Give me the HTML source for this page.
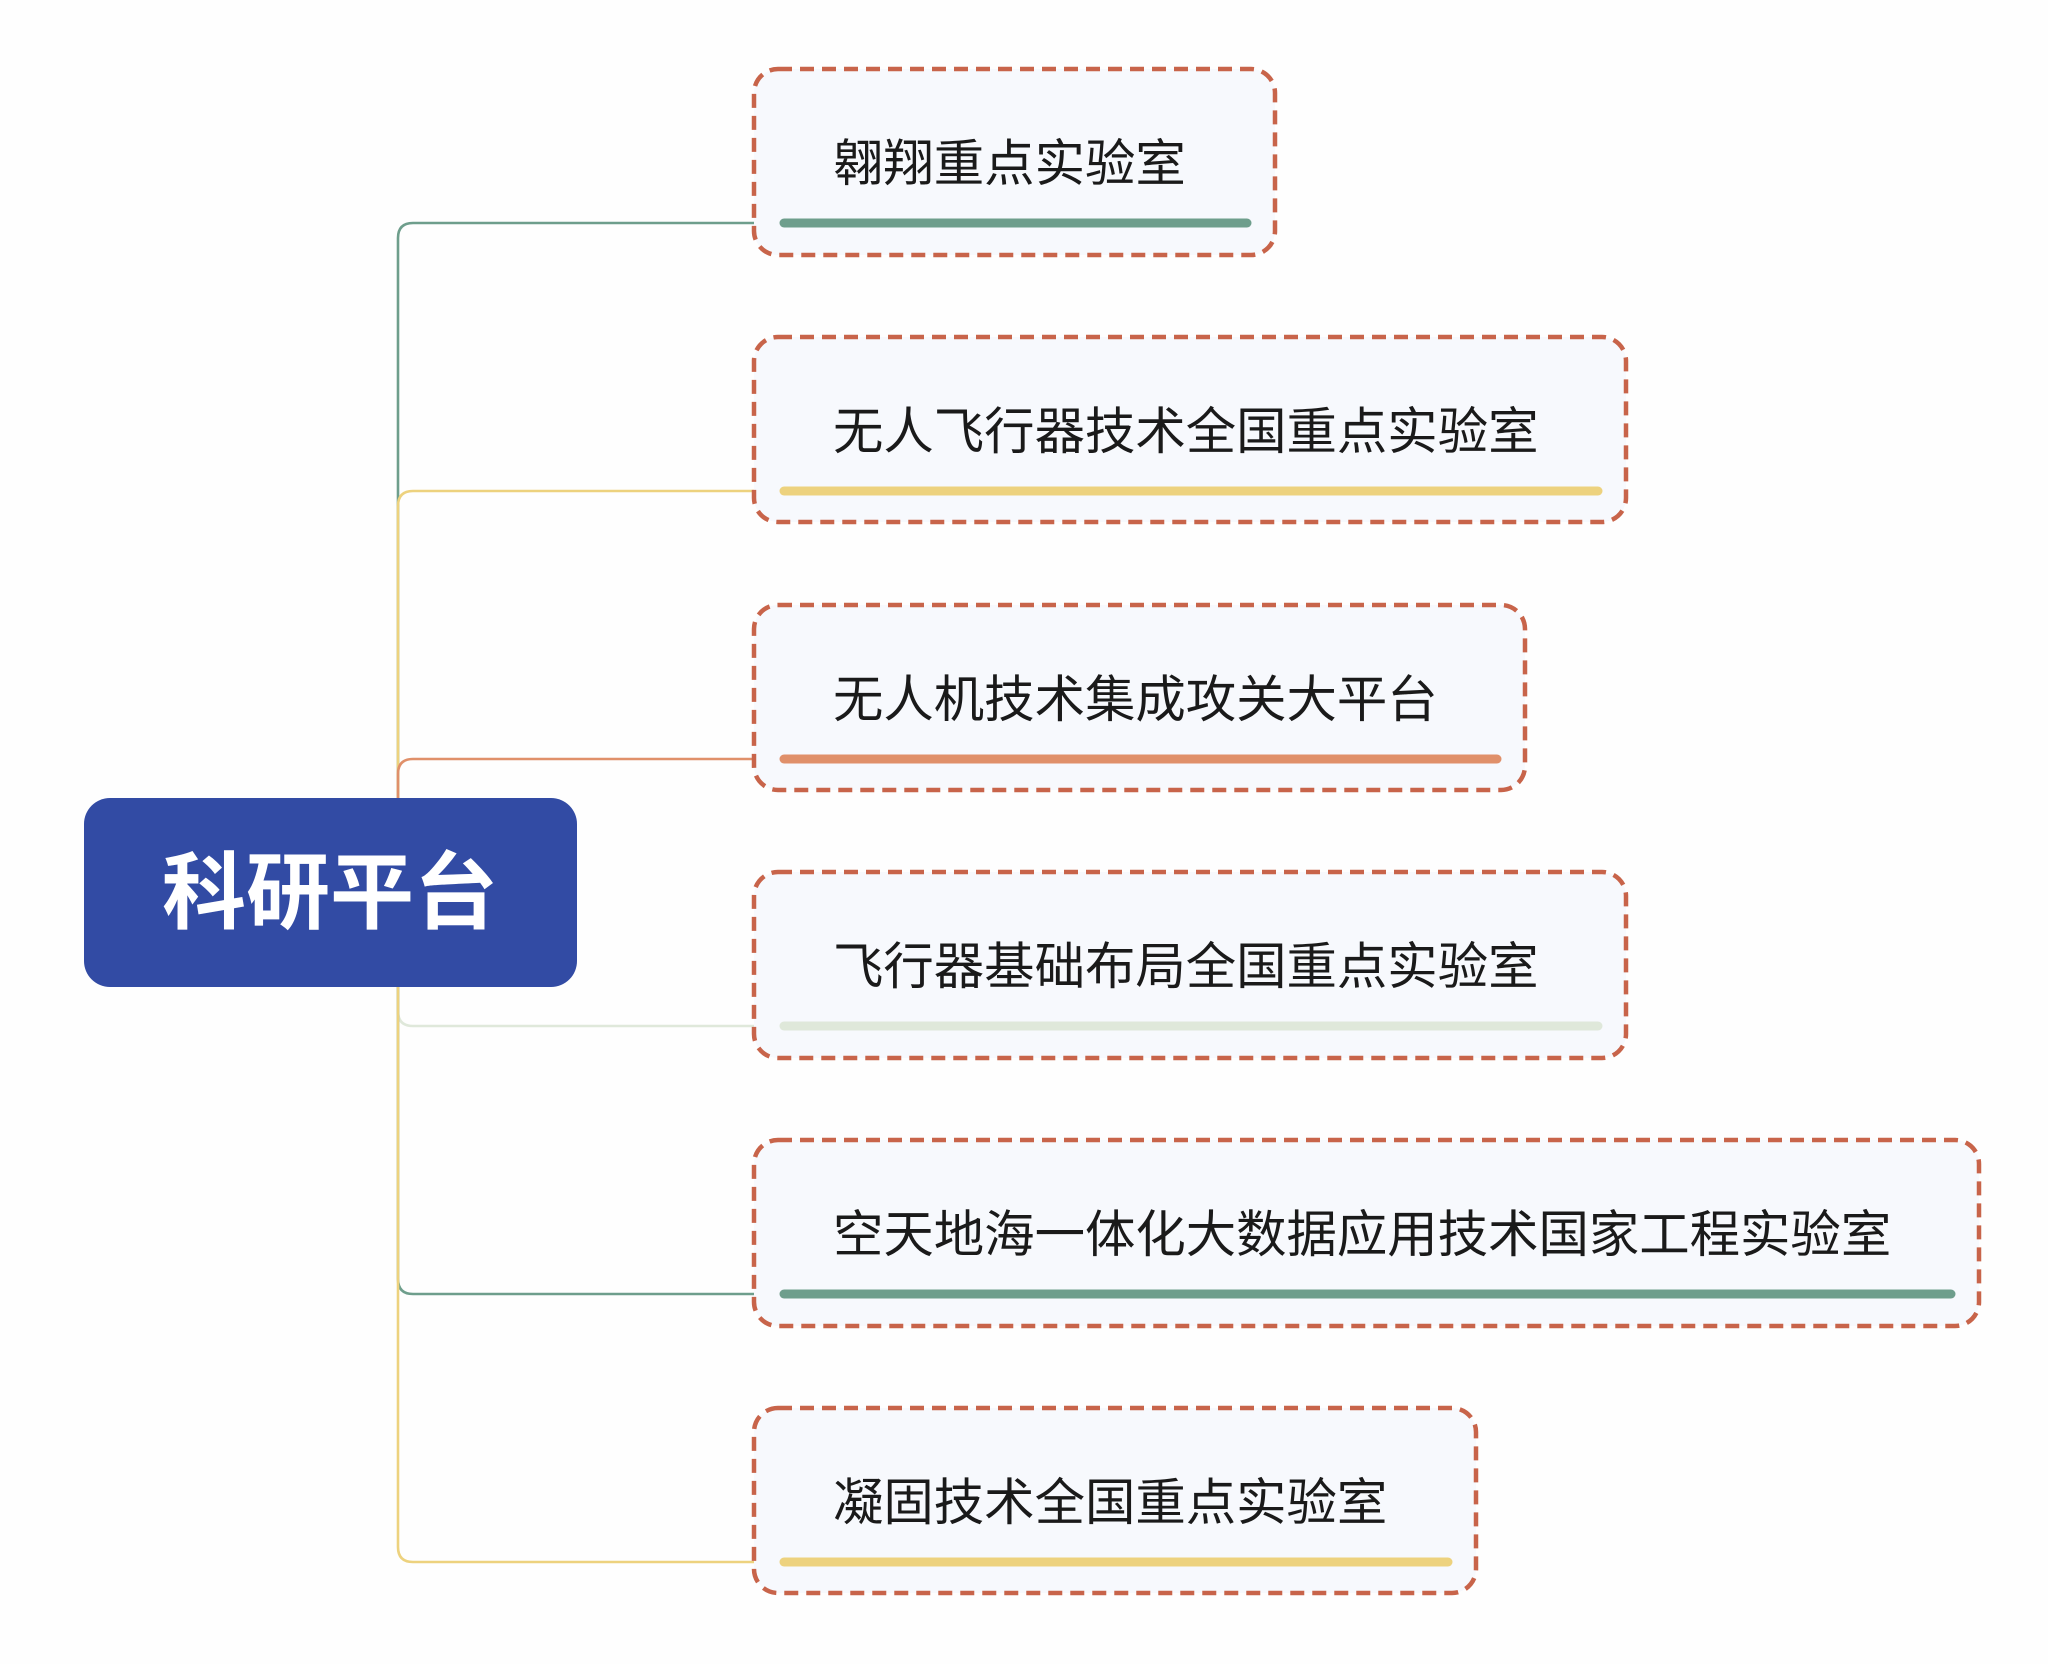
<!DOCTYPE html>
<html><head><meta charset="utf-8"><style>
html,body{margin:0;padding:0;background:#fefefe;}
svg{display:block}
text{font-family:"Liberation Sans","Noto Sans CJK SC",sans-serif;}
</style></head><body>
<svg width="2048" height="1664" viewBox="0 0 2048 1664" xmlns="http://www.w3.org/2000/svg">
<rect width="2048" height="1664" fill="#fefefe"/>
<g fill="none" stroke-width="2.6">
<path d="M398,798 L398,238 Q398,223 413,223 L780,223" stroke="#6e9e8c"/>
<path d="M398,798 L398,506 Q398,491 413,491 L780,491" stroke="#edd27e"/>
<path d="M398,798 L398,774 Q398,759 413,759 L780,759" stroke="#e0906a"/>
<path d="M398,987 L398,1011 Q398,1026 413,1026 L780,1026" stroke="#dfe8da"/>
<path d="M398,987 L398,1279 Q398,1294 413,1294 L780,1294" stroke="#6e9e8c"/>
<path d="M398,987 L398,1547 Q398,1562 413,1562 L780,1562" stroke="#edd27e"/>
</g>
<rect x="84" y="798" width="493" height="189" rx="26" fill="#324ba4"/>
<text x="330" y="922" text-anchor="middle" font-size="84" font-weight="bold" fill="#fff">科研平台</text>
<g stroke="#c8644a" stroke-width="4.5" stroke-dasharray="14 8" fill="#f7f9fd">
<rect x="754" y="69" width="521" height="186" rx="24"/>
<rect x="754" y="337" width="872" height="185" rx="24"/>
<rect x="754" y="605" width="771" height="185" rx="24"/>
<rect x="754" y="872" width="872" height="186" rx="24"/>
<rect x="754" y="1140" width="1225" height="186" rx="24"/>
<rect x="754" y="1408" width="722" height="185" rx="24"/>
</g>
<g stroke-width="9" stroke-linecap="round">
<line x1="784" y1="223" x2="1247" y2="223" stroke="#6e9e8c"/>
<line x1="784" y1="491" x2="1598" y2="491" stroke="#edd27e"/>
<line x1="784" y1="759" x2="1497" y2="759" stroke="#e0906a"/>
<line x1="784" y1="1026" x2="1598" y2="1026" stroke="#dfe8da"/>
<line x1="784" y1="1294" x2="1951" y2="1294" stroke="#6e9e8c"/>
<line x1="784" y1="1562" x2="1448" y2="1562" stroke="#edd27e"/>
</g>
<g font-size="50.4" fill="#1a1a1a">
<text x="833" y="181">翱翔重点实验室</text>
<text x="833" y="449">无人飞行器技术全国重点实验室</text>
<text x="833" y="717">无人机技术集成攻关大平台</text>
<text x="833" y="984">飞行器基础布局全国重点实验室</text>
<text x="833" y="1252">空天地海一体化大数据应用技术国家工程实验室</text>
<text x="833" y="1520">凝固技术全国重点实验室</text>
</g>
</svg>
</body></html>
